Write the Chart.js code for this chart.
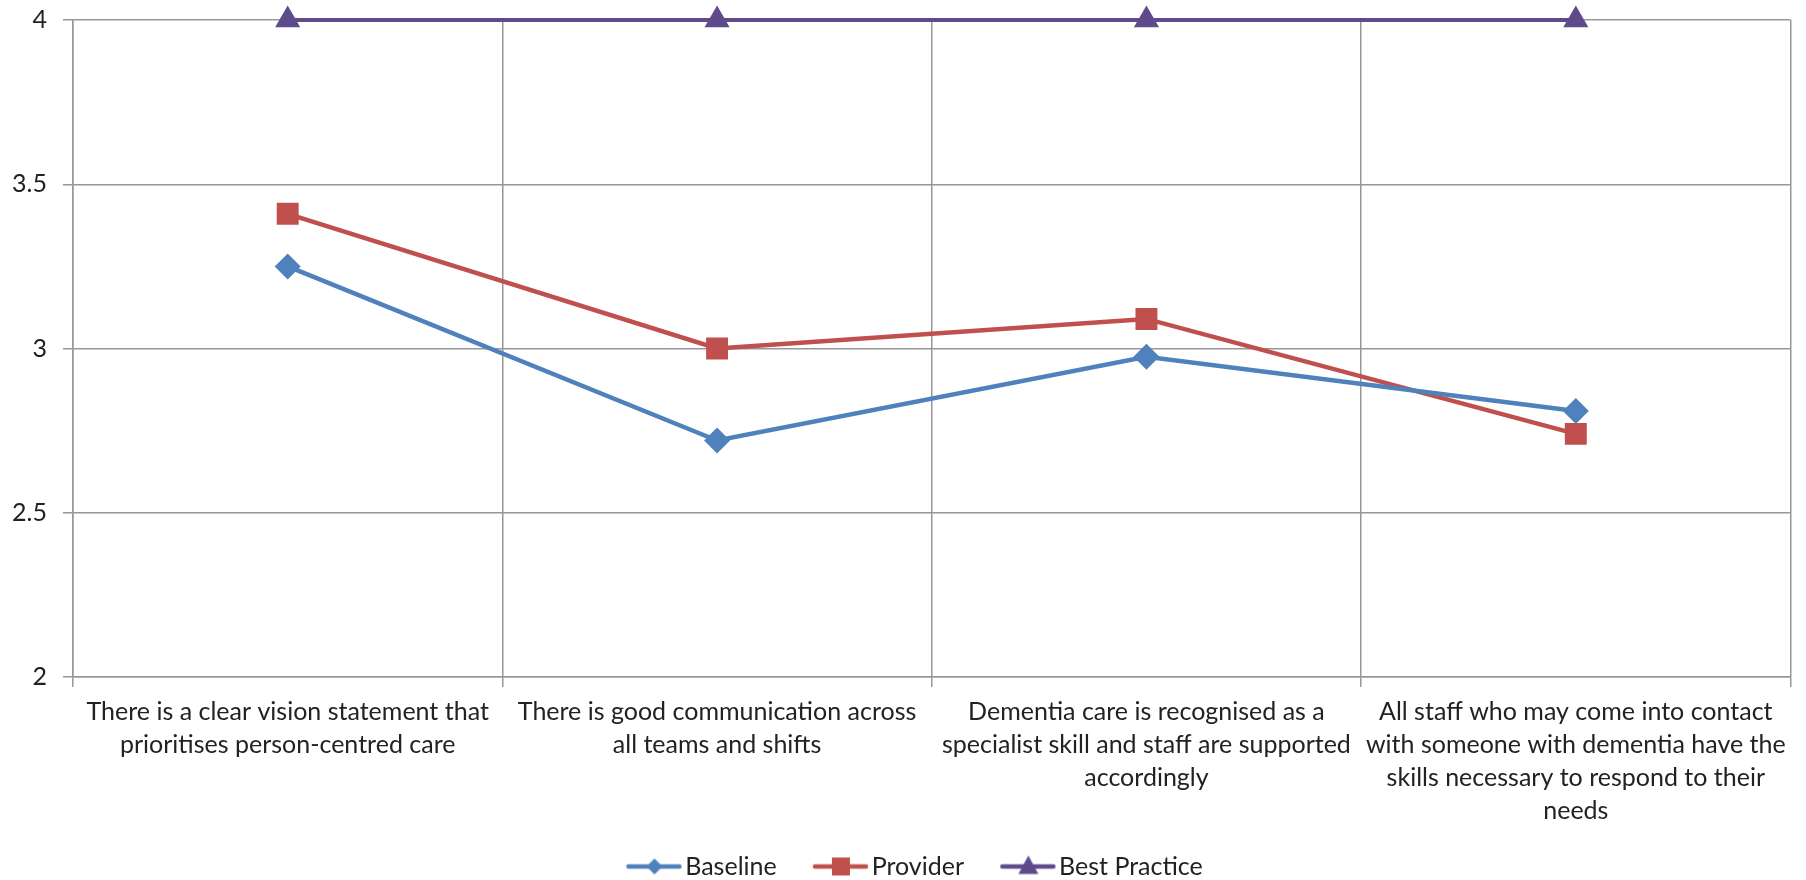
<!DOCTYPE html>
<html>
<head>
<meta charset="utf-8">
<script src="https://cdn.jsdelivr.net/npm/chart.js@4/dist/chart.umd.min.js"></script>
<style>
  body { margin: 0; background: #fff; }
  #wrap { width: 1806px; height: 880px; }
</style>
</head>
<body>
<div id="wrap"><canvas id="myLineChart" width="1806" height="880"></canvas></div>
<script>
var categories = [
    ["There is a clear vision statement that", "prioritises person-centred care"],
    ["There is good communication across", "all teams and shifts"],
    ["Dementia care is recognised as a", "specialist skill and staff are supported", "accordingly"],
    ["All staff who may come into contact", "with someone with dementia have the", "skills necessary to respond to their", "needs"]
];
var seriesNames = ["Baseline", "Provider", "Best Practice"];
var baseline = [3.25, 2.72, 2.975, 2.81];
var provider = [3.41, 3.00, 3.09, 2.74];
var bestPractice = [4, 4, 4, 4];
var yTicks = [2, 2.5, 3, 3.5, 4];

var FONT = "Lato, 'Open Sans', sans-serif";
var FS = 25;
var TEXT = "#222222";
var GRID = "#979797";

// line+marker pictures for the legend (excel style). the empty left part of the
// canvas is on purpose, it makes the gap after the previous legend text
function legendIcon(color, style, r){
    var c = document.createElement("canvas");
    c.width = 102; c.height = 30;
    var ctx = c.getContext("2d");
    var cy = 15, cx = 74;
    ctx.strokeStyle = color;
    ctx.lineWidth = 4.5;
    ctx.lineCap = "round";
    ctx.beginPath(); ctx.moveTo(48, cy); ctx.lineTo(99, cy); ctx.stroke();
    ctx.fillStyle = color;
    ctx.beginPath();
    if(style === "rectRot"){
        ctx.moveTo(cx, cy - r); ctx.lineTo(cx + r, cy); ctx.lineTo(cx, cy + r); ctx.lineTo(cx - r, cy);
    } else if(style === "rect"){
        ctx.rect(cx - r, cy - r, 2 * r, 2 * r);
    } else {
        ctx.moveTo(cx, cy - r * 1.1); ctx.lineTo(cx + r, cy + r * 0.75); ctx.lineTo(cx - r, cy + r * 0.75);
    }
    ctx.closePath(); ctx.fill();
    return c;
}

var icons = [
    legendIcon("#4F81BD", "rectRot", 8),
    legendIcon("#C0504D", "rect", 9),
    legendIcon("#5F4B8B", "triangle", 10)
];

new Chart(document.getElementById("myLineChart"), {
    type: 'line',
    data: {
        labels: categories,
        datasets: [{
            label: seriesNames[0],
            data: baseline,
            borderColor: '#4F81BD',
            backgroundColor: '#4F81BD',
            borderWidth: 4.5,
            pointStyle: 'rectRot',
            pointRadius: 13,
            pointBorderWidth: 0
        }, {
            label: seriesNames[1],
            data: provider,
            borderColor: '#C0504D',
            backgroundColor: '#C0504D',
            borderWidth: 4.5,
            pointStyle: 'rect',
            pointRadius: 15.5,
            pointBorderWidth: 0
        }, {
            label: seriesNames[2],
            data: bestPractice,
            borderColor: '#5F4B8B',
            backgroundColor: '#5F4B8B',
            borderWidth: 4,
            pointStyle: 'triangle',
            pointRadius: 14.5,
            pointBorderWidth: 0,
            clip: false
        }]
    },
    options: {
        responsive: false,
        devicePixelRatio: 1,
        animation: false,
        layout: { padding: { left: 0, right: 13, top: 20, bottom: -9 } },
        elements: { line: { tension: 0 } },
        scales: {
            x: {
                offset: true,
                grid: { offset: true, color: GRID, lineWidth: 1.5, tickLength: 10 },
                border: { color: GRID, width: 1.5 },
                ticks: {
                    maxRotation: 0,
                    autoSkip: false,
                    padding: 8,
                    color: TEXT,
                    font: { family: FONT, size: FS, lineHeight: 33 / FS }
                },
                afterFit: function(scale){ scale.height = 177; }
            },
            y: {
                min: 2,
                max: 4,
                afterBuildTicks: function(scale){
                    scale.ticks = yTicks.map(function(v){ return { value: v }; });
                },
                grid: { color: GRID, lineWidth: 1.5, tickLength: 10 },
                border: { color: GRID, width: 1.5 },
                ticks: {
                    padding: 16,
                    color: TEXT,
                    font: { family: FONT, size: FS },
                    callback: function(v){ return String(v); }
                },
                afterFit: function(scale){
                    scale.width = 73;
                    scale.paddingTop = 0;
                    scale.paddingBottom = 0;
                }
            }
        },
        plugins: {
            tooltip: { enabled: false },
            legend: {
                position: 'bottom',
                labels: {
                    usePointStyle: true,
                    pointStyleWidth: 82.5,
                    padding: 0,
                    color: TEXT,
                    font: { family: FONT, size: FS },
                    generateLabels: function(chart){
                        var items = Chart.defaults.plugins.legend.labels.generateLabels(chart);
                        for(var i=0; i<items.length; i++){
                            items[i].pointStyle = icons[i];
                        }
                        return items;
                    }
                }
            }
        }
    }
});
</script>
</body>
</html>
